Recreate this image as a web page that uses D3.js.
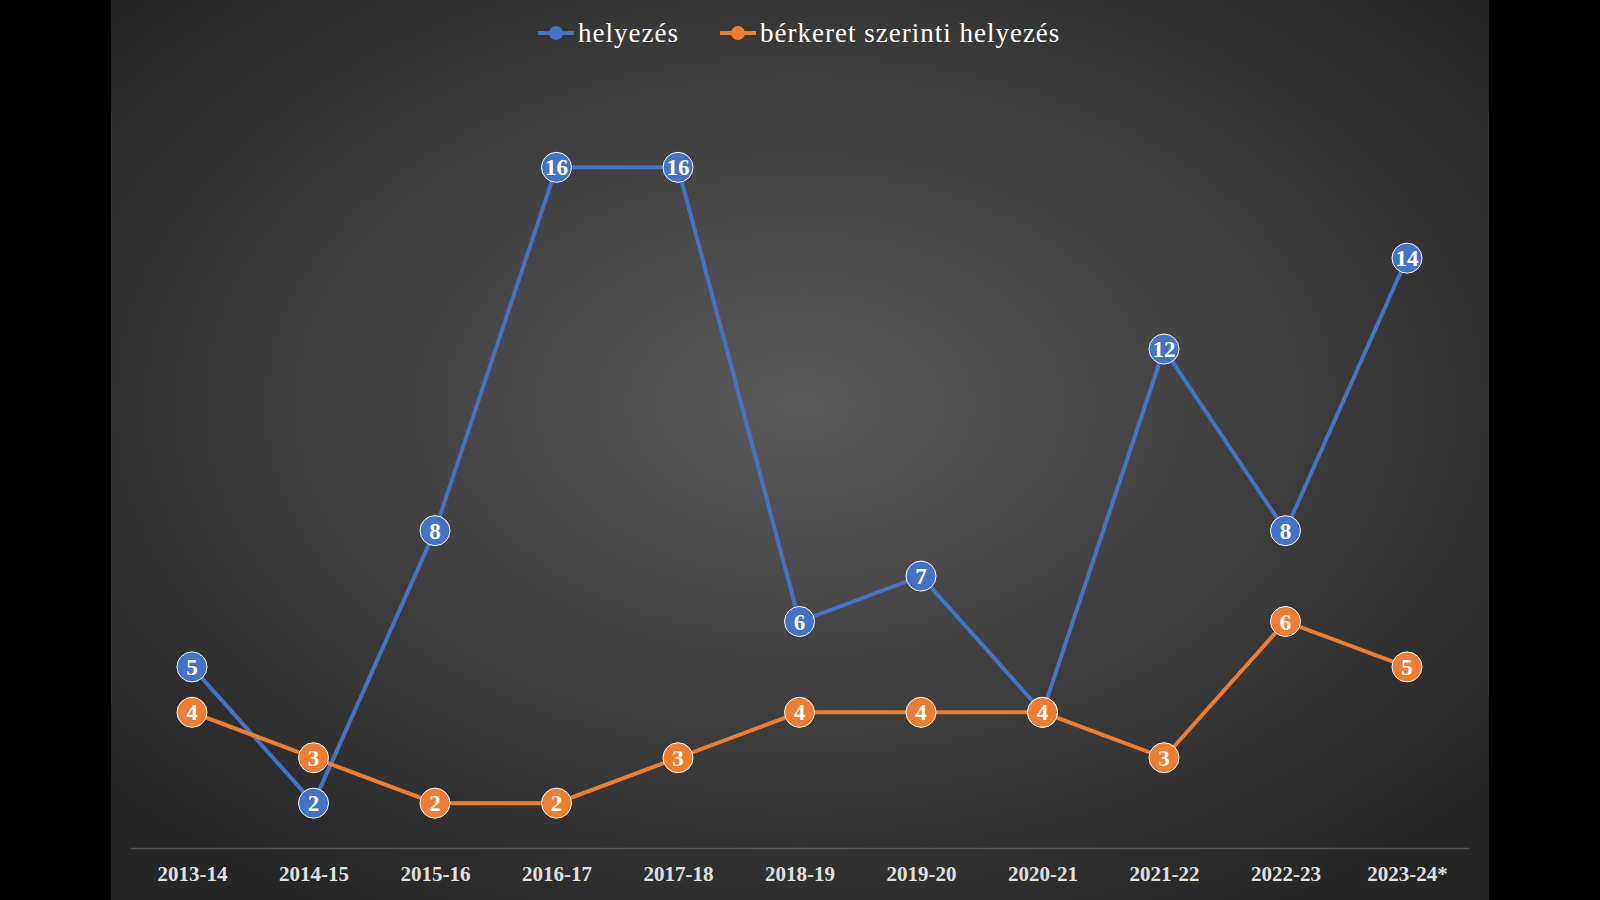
<!DOCTYPE html>
<html><head><meta charset="utf-8">
<script src="https://cdn.jsdelivr.net/npm/d3@7"></script>
<style>body{margin:0;background:#000}</style></head>
<body><svg id="c" width="1600" height="900"></svg>
<script>
const categories=["2013-14","2014-15","2015-16","2016-17","2017-18","2018-19","2019-20","2020-21","2021-22","2022-23","2023-24*"];
const helyezes=[5,2,8,16,16,6,7,4,12,8,14];
const berkeret=[4,3,2,2,3,4,4,4,3,6,5];
const seriesNames=["helyezés","bérkeret szerinti helyezés"];
const colors=["#4472C4","#ED7D31"];
const svg=d3.select("#c");
const defs=svg.append("defs");
const g=defs.append("radialGradient").attr("id","bg").attr("cx","50%").attr("cy","45%").attr("r","65%");
g.append("stop").attr("offset","0%").attr("stop-color","#5a5a5a");
g.append("stop").attr("offset","100%").attr("stop-color","#262626");
svg.append("rect").attr("x",111).attr("y",0).attr("width",1378).attr("height",900).attr("fill","url(#bg)");
const x=d3.scalePoint().domain(categories).range([192,1407]);
const y=d3.scaleLinear().domain([0,18]).range([894,76.5]);
svg.append("line").attr("x1",131).attr("x2",1469).attr("y1",y(1)).attr("y2",y(1)).attr("stroke","#555").attr("stroke-width",1.5);
const ax=svg.append("g").attr("transform",`translate(0,${y(1)})`).call(d3.axisBottom(x).tickSize(0).tickPadding(18));
ax.select(".domain").remove();
ax.selectAll("text").attr("fill","#e0e0e0").attr("font-family","Liberation Serif").attr("font-weight","bold").attr("font-size",21);
[helyezes,berkeret].forEach((s,i)=>{
  const data=s.map((v,j)=>({c:categories[j],v}));
  svg.append("path").datum(data).attr("fill","none").attr("stroke",colors[i]).attr("stroke-width",4)
    .attr("d",d3.line().x(d=>x(d.c)).y(d=>y(d.v)));
  const p=svg.append("g").selectAll("g").data(data).join("g").attr("transform",d=>`translate(${x(d.c)},${y(d.v)})`);
  p.append("circle").attr("r",15).attr("fill",colors[i]).attr("stroke","#fff").attr("stroke-width",1);
  p.append("text").text(d=>d.v).attr("text-anchor","middle").attr("dy","0.35em").attr("fill","#fff")
    .attr("font-family","Liberation Serif").attr("font-weight","bold").attr("font-size",23);
});
const lg=svg.append("g");
const lx=[538,720];
seriesNames.forEach((n,i)=>{
  lg.append("line").attr("x1",lx[i]).attr("x2",lx[i]+36).attr("y1",33).attr("y2",33).attr("stroke",colors[i]).attr("stroke-width",4);
  lg.append("circle").attr("cx",lx[i]+18).attr("cy",33).attr("r",7).attr("fill",colors[i]);
  lg.append("text").attr("x",lx[i]+40).attr("y",33).attr("dy","0.35em").text(n).attr("fill","#fff")
    .attr("font-family","Liberation Serif").attr("font-size",27).attr("letter-spacing",1);
});
</script></body></html>
